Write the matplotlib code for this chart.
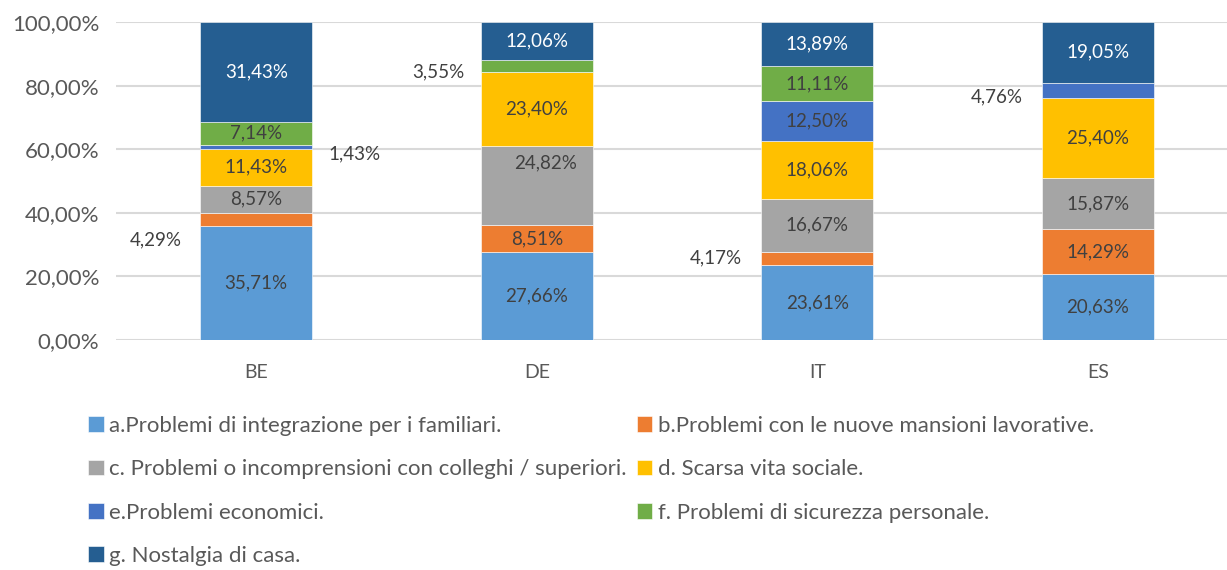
import matplotlib.pyplot as plt
import numpy as np

plt.rcParams['font.family'] = ['Lato', 'DejaVu Sans']

countries = ['BE', 'DE', 'IT', 'ES']
labels = [
    'a.Problemi di integrazione per i familiari.',
    'b.Problemi con le nuove mansioni lavorative.',
    'c. Problemi o incomprensioni con colleghi / superiori.',
    'd. Scarsa vita sociale.',
    'e.Problemi economici.',
    'f. Problemi di sicurezza personale.',
    'g. Nostalgia di casa.',
]
a_vals = [35.71, 27.66, 23.61, 20.63]
b_vals = [4.29, 8.51, 4.17, 14.29]
c_vals = [8.57, 24.82, 16.67, 15.87]
d_vals = [11.43, 23.40, 18.06, 25.40]
e_vals = [1.43, 0.0, 12.50, 4.76]
f_vals = [7.14, 3.55, 11.11, 0.0]
g_vals = [31.43, 12.06, 13.89, 19.05]
series = [a_vals, b_vals, c_vals, d_vals, e_vals, f_vals, g_vals]

colors = ['#5B9BD5', '#ED7D31', '#A5A5A5', '#FFC000', '#4472C4', '#70AD47', '#255E91']

# labels moved by hand in the original: (series, country) -> (dx, y)
moved = {
    (1, 0): (-0.36, 31.4),
    (4, 0): (0.35, 58.5),
    (5, 1): (-0.35, 84.3),
    (2, 1): (0.03, 55.7),
    (1, 2): (-0.36, 25.8),
    (4, 3): (-0.36, 76.4),
}


def fmt(v):
    return f'{v:.2f}'.replace('.', ',') + '%'


def main():
    fig = plt.figure(figsize=(12.27, 5.70), dpi=100)
    ax = fig.add_axes([116 / 1227, 1 - 340 / 570, 1122 / 1227, 318 / 570])
    x = np.arange(len(countries))
    bottom = np.zeros(len(countries))
    handles = []
    for i, vals in enumerate(series):
        vals = np.array(vals)
        bars = ax.bar(x, vals, 0.4, bottom=bottom, color=colors[i],
                      edgecolor='white', linewidth=0.4, label=labels[i], zorder=3)
        handles.append(bars)
        for j, v in enumerate(vals):
            if v == 0:
                continue
            tc = 'white' if i == 6 else '#404040'
            if (i, j) in moved:
                dx, yy = moved[(i, j)]
                ax.text(x[j] + dx, yy, fmt(v), ha='center', va='center',
                        fontsize=13.5, color='#404040', zorder=4)
            else:
                ax.text(x[j], bottom[j] + v / 2, fmt(v), ha='center', va='center',
                        fontsize=13.5, color=tc, zorder=4)
        bottom += vals

    ax.set_xlim(-0.5, 3.5)
    ax.set_ylim(0, 100)
    ax.set_yticks(np.arange(0, 101, 20))
    ax.set_yticklabels([f'{t},00%' for t in range(0, 101, 20)])
    ax.set_xticks(x)
    ax.set_xticklabels(countries)
    ax.tick_params(length=0, labelsize=16, labelcolor='#595959')
    ax.tick_params(axis='x', pad=17, labelsize=14)
    ax.tick_params(axis='y', pad=12)
    for s in ax.spines.values():
        s.set_visible(False)
    ax.grid(axis='y', color='#D9D9D9', linewidth=1.5, zorder=0)
    ax.set_axisbelow(True)

    order = [0, 2, 4, 6, 1, 3, 5]
    leg = fig.legend([handles[k] for k in order], [labels[k] for k in order],
                     loc='upper left', bbox_to_anchor=(88 / 1227, 1 - 416 / 570),
                     ncol=2, frameon=False, fontsize=16, handlelength=0.7,
                     handleheight=0.7, handletextpad=0.25, columnspacing=0.45,
                     labelspacing=1.05, borderaxespad=0, borderpad=0)
    for t in leg.get_texts():
        t.set_color('#595959')

    fig.savefig('out.png', dpi=100)


if __name__ == '__main__':
    main()
